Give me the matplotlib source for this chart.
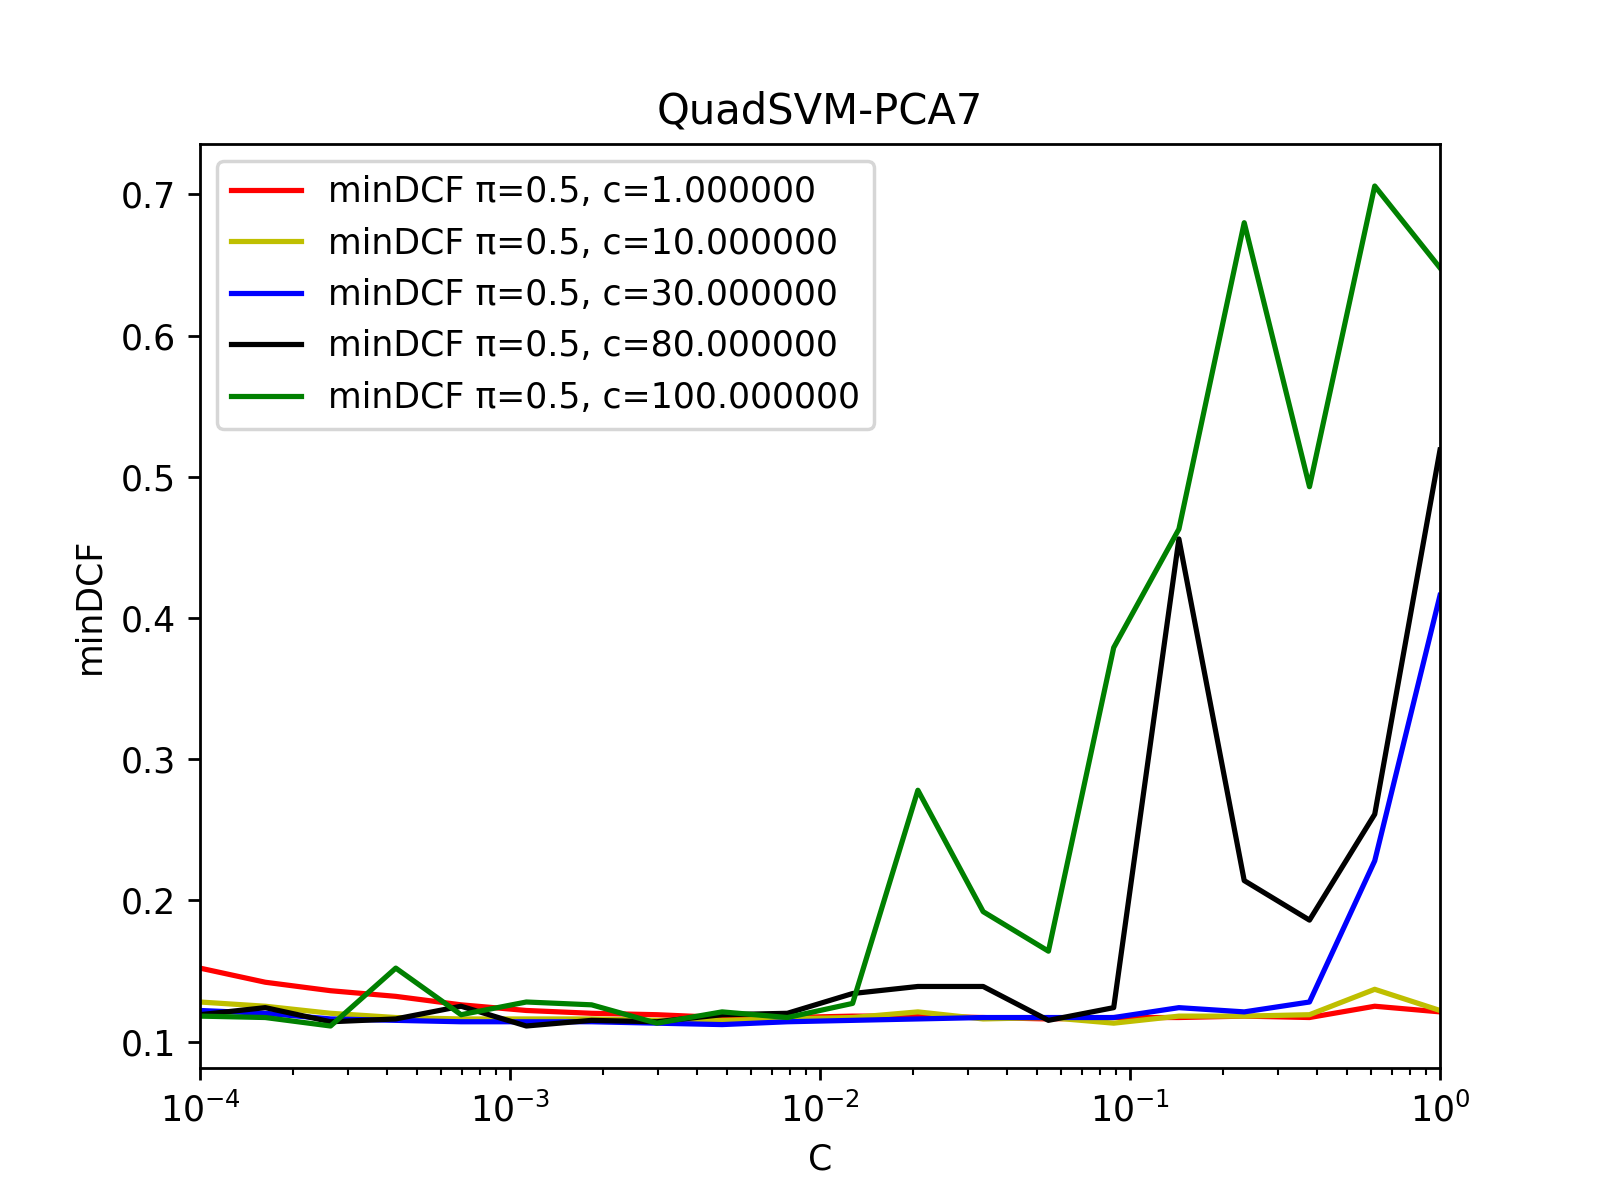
import matplotlib
matplotlib.use("Agg")
import matplotlib.pyplot as plt

C_values = [1.0e-4, 1.624e-4, 2.637e-4, 4.281e-4, 6.952e-4, 1.129e-3, 1.833e-3,
            2.976e-3, 4.833e-3, 7.848e-3, 1.274e-2, 2.069e-2, 3.360e-2, 5.456e-2,
            8.859e-2, 1.438e-1, 2.336e-1, 3.793e-1, 6.158e-1, 1.0]

c_labels = ["1.000000", "10.000000", "30.000000", "80.000000", "100.000000"]
colors = ["r", "y", "b", "k", "g"]

dcf_c1 = [0.152, 0.142, 0.136, 0.132, 0.126, 0.122, 0.120, 0.119, 0.117, 0.117,
          0.118, 0.118, 0.117, 0.116, 0.117, 0.117, 0.118, 0.117, 0.125, 0.121]
dcf_c10 = [0.128, 0.125, 0.120, 0.117, 0.116, 0.116, 0.116, 0.115, 0.115, 0.116,
           0.117, 0.121, 0.116, 0.117, 0.113, 0.118, 0.118, 0.119, 0.137, 0.122]
dcf_c30 = [0.122, 0.120, 0.116, 0.115, 0.114, 0.114, 0.114, 0.113, 0.112, 0.114,
           0.115, 0.116, 0.117, 0.117, 0.117, 0.124, 0.121, 0.128, 0.228, 0.416]
dcf_c80 = [0.119, 0.124, 0.114, 0.116, 0.125, 0.111, 0.115, 0.114, 0.119, 0.120,
           0.134, 0.139, 0.139, 0.115, 0.124, 0.456, 0.214, 0.186, 0.261, 0.519]
dcf_c100 = [0.118, 0.117, 0.111, 0.152, 0.119, 0.128, 0.126, 0.113, 0.121, 0.117,
            0.127, 0.278, 0.192, 0.164, 0.379, 0.463, 0.680, 0.493, 0.706, 0.648]

series = [dcf_c1, dcf_c10, dcf_c30, dcf_c80, dcf_c100]

fig = plt.figure(figsize=(6.4, 4.8), dpi=250)
for vals, lab, col in zip(series, c_labels, colors):
    plt.plot(C_values, vals, color=col, label="minDCF \u03c0=0.5, c=" + lab)
plt.xscale("log")
plt.xlim(C_values[0], C_values[-1])
plt.xlabel("C")
plt.ylabel("minDCF")
plt.title("QuadSVM-PCA7")
plt.legend(loc="upper left")
plt.savefig("out.png")
